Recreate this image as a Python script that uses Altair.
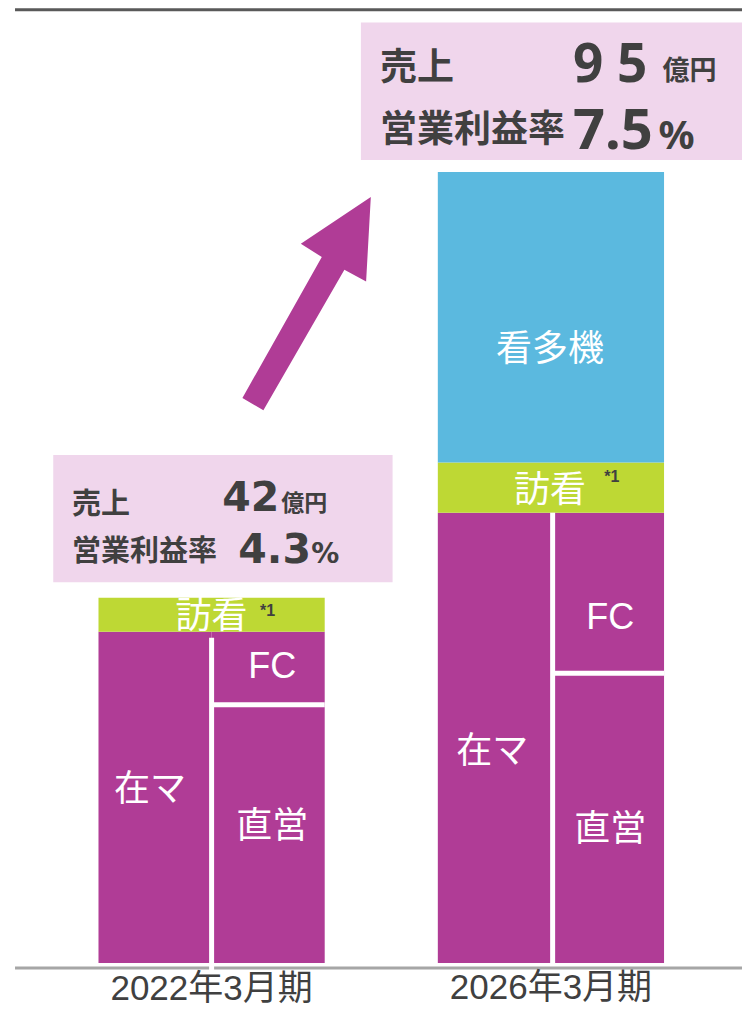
import altair as alt
import pandas as pd

# ---------------- data ----------------
periods = ["2022年3月期", "2026年3月期"]
zaima   = [19.5, 26.9]   # 在マ
chokuei = [15.2, 16.8]   # 直営
fc      = [4.3, 9.3]     # FC
houkan  = [4.0, 5.9]     # 訪看
kantaki = [0.0, 34.2]    # 看多機
sales   = [42, 95]       # 売上 (億円)
margin  = [4.3, 7.5]     # 営業利益率 (%)

# ---------------- style / layout ----------------
MAGENTA = "#B03C96"
GREEN = "#BED834"
BLUE = "#5BB9DF"
PINK = "#F0D6EC"
DARK = "#404040"
CJK = "Noto Sans CJK JP"
LAT = "Liberation Sans, Noto Sans CJK JP"

W, H = 734, 998
XDOM = [0, 3.2446]
YDOM = [-5.06, 112.4]
PX_X = W / (XDOM[1] - XDOM[0])
PX_Y = H / (YDOM[1] - YDOM[0])
centers = [0.9, 2.4]
bw = 1.0

xs = alt.Scale(domain=XDOM, nice=False, zero=False)
ys = alt.Scale(domain=YDOM, nice=False, zero=False)


def ux(px):
    return px / PX_X


def uy(px):
    return px / PX_Y


# label offsets (px, right / down) from region centres
label_off = {
    (0, "在マ"): (-5, -7), (0, "直営"): (4, -7), (0, "FC"): (4, -1), (0, "訪看"): (0, 2),
    (1, "在マ"): (-3, 14), (1, "直営"): (2, 12), (1, "FC"): (2, 25), (1, "訪看"): (-1, 3),
    (1, "看多機"): (-1, 33),
}
note_off = [(56, -4), (61, -11)]
div_top_gap = [6, 0]
div_bottom_ext = [7, 0]
cat_y = [-4.4, -4.2]

rects, labels, dividers, notes, cats = [], [], [], [], []
for i in range(2):
    left = centers[i] - bw / 2
    right = centers[i] + bw / 2
    M = zaima[i] + chokuei[i] + fc[i]
    split = left + bw * zaima[i] / M
    ch = M * chokuei[i] / (chokuei[i] + fc[i])
    segs = [
        ("在マ", left, split, 0, M, MAGENTA),
        ("直営", split, right, 0, ch, MAGENTA),
        ("FC", split, right, ch, M, MAGENTA),
        ("訪看", left, right, M, M + houkan[i], GREEN),
    ]
    if kantaki[i] > 0:
        segs.append(("看多機", left, right, M + houkan[i], M + houkan[i] + kantaki[i], BLUE))
    for name, x0, x1, y0, y1, col in segs:
        rects.append(dict(x=x0, x2=x1, y=y0, y2=y1, fill=col))
        dx, dy = label_off[(i, name)]
        labels.append(dict(x=(x0 + x1) / 2 + ux(dx), y=(y0 + y1) / 2 - uy(dy), text=name))
        if name == "訪看":
            ndx, ndy = note_off[i]
            notes.append(dict(x=(x0 + x1) / 2 + ux(ndx), y=(y0 + y1) / 2 - uy(ndy), text="*1"))
    dividers.append(dict(x=split, x2=split, y=M - uy(div_top_gap[i]), y2=-uy(div_bottom_ext[i])))
    dividers.append(dict(x=split, x2=right, y=ch, y2=ch))
    cats.append(dict(x=centers[i], y=cat_y[i], text=periods[i]))

rect_df = pd.DataFrame(rects)
label_df = pd.DataFrame(labels)
div_df = pd.DataFrame(dividers)
note_df = pd.DataFrame(notes)
cat_df = pd.DataFrame(cats)

boxes_df = pd.DataFrame([
    dict(x=0.20, x2=1.70, y=44.8, y2=59.8),
    dict(x=1.56, x2=XDOM[1], y=94.5, y2=110.7),
])

lines_df = pd.DataFrame([
    dict(x=0.031, x2=XDOM[1], y=112.2, c="#595959"),
    dict(x=0.031, x2=XDOM[1], y=-0.59, c="#A6A6A6"),
])

# box texts
cjk_bold_df = pd.DataFrame([
    dict(x=0.283, y=52.9, text="売上", size=29),
    dict(x=0.283, y=47.3, text="営業利益率", size=29),
    dict(x=1.208, y=53.2, text="億円", size=23),
    dict(x=1.644, y=103.9, text="売上", size=37),
    dict(x=1.644, y=96.6, text="営業利益率", size=37),
    dict(x=2.893, y=103.9, text="億円", size=27),
])
dv_bold_df = pd.DataFrame([
    dict(x=0.947, y=53.2, text=str(sales[0]), size=41),
    dict(x=1.018, y=47.1, text=f"{margin[0]:.1f}", size=41),
    dict(x=1.340, y=47.1, text="%", size=28),
])
noto_bold_df = pd.DataFrame([
    dict(x=2.497, y=103.7, text=" ".join(str(sales[1])), size=53),
    dict(x=2.497, y=95.8, text=f"{margin[1]:.1f}", size=56),
    dict(x=2.876, y=95.8, text="%", size=40),
])

arrow_path = ("M0.600,-0.997L0.556,-0.208L0.353,-0.318L-0.404,0.997"
              "L-0.600,0.881L0.142,-0.436L-0.054,-0.561Z")
arrow_df = pd.DataFrame([dict(x=1.32, y=77.6)])


def X(f="x"):
    return alt.X(f"{f}:Q", scale=xs, axis=None)


def Y(f="y"):
    return alt.Y(f"{f}:Q", scale=ys, axis=None)


boxes = alt.Chart(boxes_df).mark_rect(color=PINK).encode(
    x=X(), x2="x2:Q", y=Y(), y2="y2:Q")

arrow = alt.Chart(arrow_df).mark_point(
    shape=arrow_path, filled=True, size=214 * 214, color=MAGENTA, opacity=1, strokeWidth=0
).encode(x=X(), y=Y())

bars = alt.Chart(rect_df).mark_rect().encode(
    x=X(), x2="x2:Q", y=Y(), y2="y2:Q", color=alt.Color("fill:N", scale=None))

lines = alt.Chart(lines_df).mark_rule(strokeWidth=3).encode(
    x=X(), x2="x2:Q", y=Y(), color=alt.Color("c:N", scale=None))

divs = alt.Chart(div_df).mark_rule(color="white", strokeWidth=5).encode(
    x=X(), x2="x2:Q", y=Y(), y2="y2:Q")


def txt(df, font, weight, align, baseline, color):
    return alt.Chart(df).mark_text(
        font=font, fontWeight=weight, align=align, baseline=baseline, color=color
    ).encode(x=X(), y=Y(), text="text:N", size=alt.Size("size:Q", scale=None))


t_cjk = txt(cjk_bold_df, CJK, "bold", "left", "alphabetic", DARK)
t_dv = txt(dv_bold_df, "DejaVu Sans", "bold", "left", "alphabetic", DARK)
t_noto = txt(noto_bold_df, "Noto Sans", "bold", "left", "alphabetic", DARK)

t_labels = alt.Chart(label_df).mark_text(
    font=LAT, fontSize=36, color="white", align="center", baseline="middle"
).encode(x=X(), y=Y(), text="text:N")

t_notes = alt.Chart(note_df).mark_text(
    font="Liberation Sans", fontWeight="bold", fontSize=16, color=DARK, align="center", baseline="middle"
).encode(x=X(), y=Y(), text="text:N")

t_cats = alt.Chart(cat_df).mark_text(
    font=LAT, fontSize=35, color=DARK, align="center", baseline="alphabetic"
).encode(x=X(), y=Y(), text="text:N")

chart = alt.layer(
    boxes, arrow, bars, lines, divs, t_cjk, t_dv, t_noto, t_labels, t_notes, t_cats
).properties(
    width=W, height=H, autosize=alt.AutoSizeParams(type="none"), padding=0
).configure_view(stroke=None)

chart.save("out.html", embed_options={"renderer": "svg", "actions": False})
